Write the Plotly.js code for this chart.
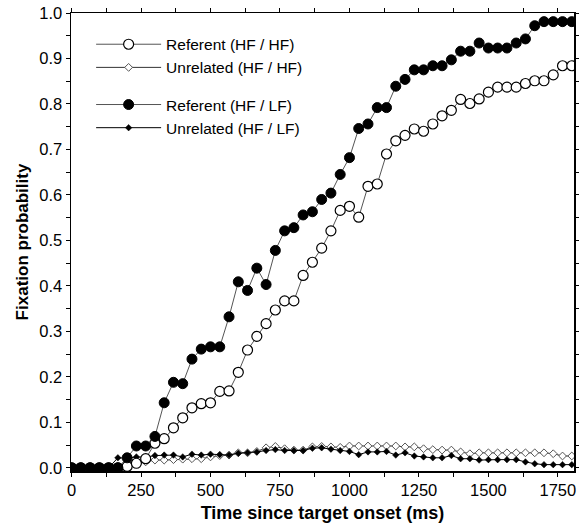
<!DOCTYPE html>
<html>
<head>
<meta charset="utf-8">
<script src="https://cdn.plot.ly/plotly-3.0.1.min.js"></script>
<style>
  html, body { margin: 0; padding: 0; background: #fff; }
  #chart { width: 579px; height: 525px; }
</style>
</head>
<body>
<div id="chart"></div>
<script>
// Time bins (ms), 33.3 ms steps from 0 to 1800
const timeMs = [0,33.3,66.7,100,133.3,166.7,200,233.3,266.7,300,333.3,366.7,400,433.3,466.7,500,533.3,566.7,600,633.3,666.7,700,733.3,766.7,800,833.3,866.7,900,933.3,966.7,1000,1033.3,1066.7,1100,1133.3,1166.7,1200,1233.3,1266.7,1300,1333.3,1366.7,1400,1433.3,1466.7,1500,1533.3,1566.7,1600,1633.3,1666.7,1700,1733.3,1766.7,1800];

const referentHFHF = [0,0,0,0,0,0,0.003,0.010,0.020,0.054,0.064,0.088,0.110,0.132,0.141,0.143,0.168,0.169,0.210,0.259,0.289,0.317,0.347,0.367,0.367,0.423,0.452,0.483,0.521,0.566,0.575,0.551,0.619,0.624,0.690,0.719,0.731,0.745,0.740,0.756,0.774,0.786,0.810,0.801,0.811,0.826,0.837,0.837,0.837,0.845,0.851,0.851,0.864,0.884,0.884];

const unrelatedHFHF = [0,0,0,0,0,0,0.006,0.010,0.013,0.017,0.017,0.018,0.019,0.020,0.020,0.024,0.027,0.028,0.033,0.033,0.036,0.044,0.047,0.042,0.039,0.039,0.046,0.047,0.046,0.045,0.048,0.048,0.048,0.048,0.048,0.048,0.046,0.046,0.042,0.040,0.039,0.039,0.035,0.031,0.033,0.033,0.033,0.033,0.033,0.033,0.033,0.033,0.031,0.026,0.026];

const referentHFLF = [0,0,0,0,0,0,0.022,0.048,0.048,0.069,0.143,0.188,0.185,0.239,0.261,0.266,0.266,0.332,0.409,0.390,0.439,0.403,0.478,0.521,0.528,0.556,0.563,0.590,0.604,0.645,0.682,0.746,0.756,0.792,0.792,0.839,0.854,0.875,0.875,0.884,0.884,0.897,0.916,0.916,0.934,0.923,0.923,0.923,0.934,0.943,0.972,0.981,0.981,0.981,0.981];

const unrelatedHFLF = [0,0,0,0,0,0.022,0.021,0.024,0.023,0.027,0.028,0.028,0.024,0.030,0.028,0.030,0.029,0.028,0.032,0.033,0.035,0.038,0.040,0.038,0.038,0.038,0.043,0.044,0.041,0.038,0.036,0.029,0.035,0.035,0.036,0.028,0.033,0.026,0.024,0.022,0.022,0.027,0.020,0.020,0.017,0.018,0.018,0.018,0.018,0.013,0.009,0.007,0.007,0.007,0.007];

const seriesNames = ['Referent (HF / HF)', 'Unrelated (HF / HF)', 'Referent (HF / LF)', 'Unrelated (HF / LF)'];
const xTickVals = [0,250,500,750,1000,1250,1500,1750];
const yTickVals = [0,0.1,0.2,0.3,0.4,0.5,0.6,0.7,0.8,0.9,1.0];
const yTickText = ['0.0','0.1','0.2','0.3','0.4','0.5','0.6','0.7','0.8','0.9','1.0'];

const FONT = 'Liberation Sans, Arial, sans-serif';

const traces = [
  {
    x: timeMs, y: unrelatedHFHF, name: seriesNames[1], legendgroup: 'hfhf', legendrank: 2,
    mode: 'lines+markers', type: 'scatter',
    line: {color: '#333', width: 1},
    marker: {symbol: 'diamond', size: 6, color: '#fff', line: {color: '#555', width: 1}}
  },
  {
    x: timeMs, y: unrelatedHFLF, name: seriesNames[3], legendgroup: 'hflf', legendrank: 4,
    mode: 'lines+markers', type: 'scatter',
    line: {color: '#000', width: 1},
    marker: {symbol: 'diamond', size: 5, color: '#000', line: {color: '#000', width: 0.5}}
  },
  {
    x: timeMs, y: referentHFHF, name: seriesNames[0], legendgroup: 'hfhf', legendrank: 1,
    mode: 'lines+markers', type: 'scatter',
    line: {color: '#555', width: 1},
    marker: {symbol: 'circle', size: 10, color: '#fff', line: {color: '#000', width: 1.2}}
  },
  {
    x: timeMs, y: referentHFLF, name: seriesNames[2], legendgroup: 'hflf', legendrank: 3,
    mode: 'lines+markers', type: 'scatter',
    line: {color: '#555', width: 1},
    marker: {symbol: 'circle', size: 10, color: '#000', line: {color: '#000', width: 1}}
  }
];

const layout = {
  width: 579, height: 525,
  margin: {l: 71, r: 5, t: 13, b: 54},
  paper_bgcolor: '#fff', plot_bgcolor: '#fff',
  font: {family: FONT, color: '#000', size: 16},
  showlegend: true,
  legend: {
    x: 0.04, y: 0.968, xanchor: 'left', yanchor: 'top',
    bgcolor: 'rgba(255,255,255,0)', borderwidth: 0,
    font: {family: FONT, size: 15.5, color: '#000'},
    traceorder: 'grouped', tracegroupgap: 14, itemwidth: 65
  },
  xaxis: {
    range: [-2, 1808], autorange: false,
    tickmode: 'array', tickvals: xTickVals, ticktext: xTickVals.map(String),
    ticks: 'outside', ticklen: 4, tickwidth: 1, tickcolor: '#000',
    minor: {dtick: 125, tick0: 0, ticks: 'outside', ticklen: 4, tickwidth: 1, tickcolor: '#000', showgrid: false},
    showline: true, linecolor: '#000', linewidth: 1.5, mirror: 'ticks',
    showgrid: false, zeroline: false,
    tickfont: {family: FONT, size: 16.5, color: '#000'},
    title: {text: '<b>Time since target onset (ms)</b>', font: {family: FONT, size: 18, color: '#000'}, standoff: 8}
  },
  yaxis: {
    range: [-0.007, 1.0], autorange: false,
    tickmode: 'array', tickvals: yTickVals, ticktext: yTickText,
    ticks: 'outside', ticklen: 4, tickwidth: 1, tickcolor: '#000',
    minor: {dtick: 0.05, tick0: 0, ticks: 'outside', ticklen: 4, tickwidth: 1, tickcolor: '#000', showgrid: false},
    showline: true, linecolor: '#000', linewidth: 1.5, mirror: 'ticks',
    showgrid: false, zeroline: false,
    tickfont: {family: FONT, size: 16.5, color: '#000'},
    title: {text: '<b>Fixation probability</b>', font: {family: FONT, size: 17, color: '#000'}, standoff: 6}
  }
};

Plotly.newPlot('chart', traces, layout, {displayModeBar: false, staticPlot: true});
</script>
</body>
</html>
